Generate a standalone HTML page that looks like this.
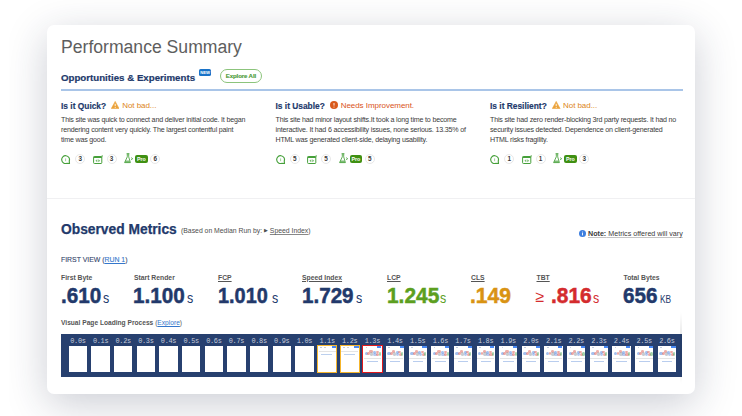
<!DOCTYPE html>
<html><head><meta charset="utf-8"><style>
*{box-sizing:border-box;margin:0;padding:0}
html,body{width:742px;height:416px;overflow:hidden;background:#fff;font-family:"Liberation Sans",sans-serif}
#clip{position:absolute;left:9px;top:0;width:733px;height:416px;overflow:hidden}
#card{position:absolute;left:37.5px;top:25px;width:648.7px;height:369px;background:#fff;border-radius:7px;box-shadow:0 10px 42px rgba(30,38,70,0.23)}
.a{position:absolute;white-space:nowrap}
.navy{color:#22396b}
#title{left:61px;top:36.5px;font-size:17.6px;color:#5e5e5e}
#opp{left:61px;top:71.6px;font-size:9.7px;font-weight:700;-webkit-text-stroke:0.2px currentColor}
#newb{left:198.9px;top:69px;width:12.3px;height:7px;background:#1a73c8;border-radius:1.6px;color:#fff;font-size:4.2px;font-weight:700;text-align:center;line-height:7px}
#explore{left:220px;top:69.2px;width:41.8px;height:14.2px;border:1px solid #8cc47c;border-radius:8px;color:#4a9a35;font-size:6.1px;letter-spacing:-0.12px;font-weight:700;-webkit-text-stroke:0.12px currentColor;text-align:center;line-height:12.2px}
#bline{left:61px;top:89px;width:622px;height:2px;background:#a9c5e8}
.colh{font-size:8.4px;font-weight:700;top:100.6px;-webkit-text-stroke:0.15px currentColor}
.stat{font-size:8px;letter-spacing:-0.05px;top:101.1px}
.warn{color:#dc8520}
.err{color:#d9541a}
.body{font-size:7.1px;letter-spacing:-0.18px;color:#3a3a3a;line-height:10px;top:114.9px}
.ico{position:absolute;top:154px}
.cnt{position:absolute;top:154.2px;width:10px;height:10px;border:1px solid #e8e8e8;border-radius:50%;font-size:6.4px;font-weight:700;color:#3a3a3a;text-align:center;line-height:8px}
.pro{position:absolute;top:155px;width:12.5px;height:8.3px;background:#3f9012;border-radius:2px;color:#fff;font-size:5.3px;font-weight:700;text-align:center;line-height:8.3px}
#sep{left:46.5px;top:198px;width:648.7px;height:1px;background:#f0f0f2}
#om{left:61px;top:221.7px;font-size:13.8px;font-weight:700;-webkit-text-stroke:0.25px currentColor}
#based{left:181px;top:227.2px;font-size:6.85px;color:#4d4d4d}
#note{left:588px;top:230px;font-size:7.15px;color:#3a3a3a;text-decoration:underline #c4c4c4;text-underline-offset:1.3px}
#fv{left:61px;top:255.5px;font-size:6.9px;color:#34456b;-webkit-text-stroke:0.1px currentColor}
.lab{font-size:6.8px;font-weight:700;color:#555;top:273.8px}
.ul{text-decoration:underline}
.big{font-size:22.5px;font-weight:700;top:283px;transform-origin:0 0;-webkit-text-stroke:0.5px currentColor}
.unit{font-size:14px;font-weight:400;top:290px;transform-origin:0 0}
#vplp{left:61px;top:319px;font-size:6.63px;font-weight:700;color:#555}
#film{left:61px;top:334px;width:621px;height:42.5px;background:#27406f;overflow:hidden}
.fr{position:absolute;top:12px;width:18.3px;height:26px;background:#fff}
.fl{position:absolute;top:2.6px;width:22.65px;text-align:center;font-family:"Liberation Mono",monospace;font-size:6.9px;letter-spacing:-0.3px;color:#c6cbd9}
.fr i{position:absolute;display:block}
.tb{left:13.8px;top:0.3px;width:4.2px;height:1.8px;background:#4a8af4}
.dd{left:1.6px;top:4.3px;width:15.5px;height:6px}
.dd b{position:absolute;border-radius:50%;opacity:.55}
.sl{left:4px;top:15px;width:10.5px;height:0.8px;background:#b9cdee}
.sg{left:0.6px;top:12.2px;width:17px;height:0.6px;background:#e4e4e4}
.ic{left:2.5px;top:0.6px;width:1.6px;height:1.6px;border-radius:50%;background:#b8c4d8}
.sl2{left:3.5px;top:8px;width:10.5px;height:0.8px;background:#bcd0ee}
.ob{outline:1.6px solid #f5b52c}
.rb{outline:1.5px solid #e0191c}
#fshadow{position:absolute;right:0;top:0;width:2px;height:100%}
</style></head><body>
<div id="clip"><div id="card"></div></div>
<div class="a" id="title">Performance Summary</div>
<div class="a navy" id="opp">Opportunities &amp; Experiments</div>
<div class="a" id="newb">NEW</div>
<div class="a" id="explore">Explore All</div>
<div class="a" id="bline"></div>
<div class="a navy colh" style="left:61px">Is it Quick?</div>
<svg class="a" style="left:111px;top:100.8px" width="8.4" height="8" viewBox="0 0 8.4 8"><path d="M4.2 0.4 L8.1 7.6 H0.3 Z" fill="#eba23a" stroke="#eba23a" stroke-width="0.6" stroke-linejoin="round"/><path d="M4.2 2.8 V5.2" stroke="#fff" stroke-width="0.9"/><circle cx="4.2" cy="6.4" r="0.5" fill="#fff"/></svg>
<div class="a stat warn" style="left:122.2px">Not bad...</div>
<div class="a body" style="left:61px">This site was quick to connect and deliver initial code. It began<br>rendering content very quickly. The largest contentful paint<br>time was good.</div>
<div class="a" style="left:61px;top:0;width:0;height:0">
<svg class="ico" width="10" height="10" viewBox="0 0 10 10" style="left:0;top:155.1px"><path d="M5.93 8.26 A3.9 3.9 0 1 1 8.26 5.93 L8.45 8.45 Z" fill="none" stroke="#46a03a" stroke-width="1.15" stroke-linejoin="miter"/><path d="M4.6 3.4V6.2" stroke="#46a03a" stroke-width="0.9" opacity=".55"/></svg>
<div class="cnt" style="left:14.4px">3</div>
<svg class="ico" width="10" height="10" viewBox="0 0 10 10" style="left:31.8px;top:154.5px"><rect x="0.6" y="1.5" width="8.2" height="7" rx="0.8" fill="none" stroke="#46a03a" stroke-width="1"/><rect x="0.6" y="1.5" width="8.2" height="1.5" fill="#46a03a"/><path d="M4.3 4.3 L2.4 5.8 L4.3 7.3 Z M5.3 4.3 L7.2 5.8 L5.3 7.3 Z" fill="#46a03a" opacity=".75"/><circle cx="9.2" cy="1.0" r="0.65" fill="#46a03a"/></svg>
<div class="cnt" style="left:45.5px">3</div>
<svg class="ico" width="10" height="11" viewBox="0 0 10 11" style="left:63.4px;top:153.2px"><path d="M2.6 0.7 H5.4 M3.3 0.7 V3.8 L0.6 9.6 H6.4 L4.7 3.8 V0.7" fill="none" stroke="#46a03a" stroke-width="0.95" stroke-linejoin="round" opacity=".9"/><path d="M1.6 7.4 H5.4 L6.4 9.6 H0.6 Z" fill="#46a03a" opacity=".7"/><path d="M7 4.6 L8.8 5.7 L7 6.8" fill="none" stroke="#46a03a" stroke-width="0.85" opacity=".85"/></svg>
<div class="pro" style="left:74.1px">Pro</div>
<div class="cnt" style="left:89.2px">6</div>
</div>
<div class="a navy colh" style="left:275.5px">Is it Usable?</div>
<svg class="a" style="left:330px;top:101px" width="8" height="8" viewBox="0 0 8 8"><circle cx="4" cy="4" r="4" fill="#d95a1c"/><path d="M4 2 V4.6" stroke="#fff" stroke-width="0.9"/><circle cx="4" cy="5.9" r="0.5" fill="#fff"/></svg>
<div class="a stat err" style="left:340.7px">Needs Improvement.</div>
<div class="a body" style="left:275.5px">This site had minor layout shifts.It took a long time to become<br>interactive. It had 6 accessibility issues, none serious. 13.35% of<br>HTML was generated client-side, delaying usability.</div>
<div class="a" style="left:275.5px;top:0;width:0;height:0">
<svg class="ico" width="10" height="10" viewBox="0 0 10 10" style="left:0;top:155.1px"><path d="M5.93 8.26 A3.9 3.9 0 1 1 8.26 5.93 L8.45 8.45 Z" fill="none" stroke="#46a03a" stroke-width="1.15" stroke-linejoin="miter"/><path d="M4.6 3.4V6.2" stroke="#46a03a" stroke-width="0.9" opacity=".55"/></svg>
<div class="cnt" style="left:14.4px">5</div>
<svg class="ico" width="10" height="10" viewBox="0 0 10 10" style="left:31.8px;top:154.5px"><rect x="0.6" y="1.5" width="8.2" height="7" rx="0.8" fill="none" stroke="#46a03a" stroke-width="1"/><rect x="0.6" y="1.5" width="8.2" height="1.5" fill="#46a03a"/><path d="M4.3 4.3 L2.4 5.8 L4.3 7.3 Z M5.3 4.3 L7.2 5.8 L5.3 7.3 Z" fill="#46a03a" opacity=".75"/><circle cx="9.2" cy="1.0" r="0.65" fill="#46a03a"/></svg>
<div class="cnt" style="left:45.5px">5</div>
<svg class="ico" width="10" height="11" viewBox="0 0 10 11" style="left:63.4px;top:153.2px"><path d="M2.6 0.7 H5.4 M3.3 0.7 V3.8 L0.6 9.6 H6.4 L4.7 3.8 V0.7" fill="none" stroke="#46a03a" stroke-width="0.95" stroke-linejoin="round" opacity=".9"/><path d="M1.6 7.4 H5.4 L6.4 9.6 H0.6 Z" fill="#46a03a" opacity=".7"/><path d="M7 4.6 L8.8 5.7 L7 6.8" fill="none" stroke="#46a03a" stroke-width="0.85" opacity=".85"/></svg>
<div class="pro" style="left:74.1px">Pro</div>
<div class="cnt" style="left:89.2px">5</div>
</div>
<div class="a navy colh" style="left:490px">Is it Resilient?</div>
<svg class="a" style="left:552.4px;top:100.8px" width="8.4" height="8" viewBox="0 0 8.4 8"><path d="M4.2 0.4 L8.1 7.6 H0.3 Z" fill="#eba23a" stroke="#eba23a" stroke-width="0.6" stroke-linejoin="round"/><path d="M4.2 2.8 V5.2" stroke="#fff" stroke-width="0.9"/><circle cx="4.2" cy="6.4" r="0.5" fill="#fff"/></svg>
<div class="a stat warn" style="left:563px">Not bad...</div>
<div class="a body" style="left:490px">This site had zero render-blocking 3rd party requests. It had no<br>security issues detected. Dependence on client-generated<br>HTML risks fragility.</div>
<div class="a" style="left:490px;top:0;width:0;height:0">
<svg class="ico" width="10" height="10" viewBox="0 0 10 10" style="left:0;top:155.1px"><path d="M5.93 8.26 A3.9 3.9 0 1 1 8.26 5.93 L8.45 8.45 Z" fill="none" stroke="#46a03a" stroke-width="1.15" stroke-linejoin="miter"/><path d="M4.6 3.4V6.2" stroke="#46a03a" stroke-width="0.9" opacity=".55"/></svg>
<div class="cnt" style="left:14.4px">1</div>
<svg class="ico" width="10" height="10" viewBox="0 0 10 10" style="left:31.8px;top:154.5px"><rect x="0.6" y="1.5" width="8.2" height="7" rx="0.8" fill="none" stroke="#46a03a" stroke-width="1"/><rect x="0.6" y="1.5" width="8.2" height="1.5" fill="#46a03a"/><path d="M4.3 4.3 L2.4 5.8 L4.3 7.3 Z M5.3 4.3 L7.2 5.8 L5.3 7.3 Z" fill="#46a03a" opacity=".75"/><circle cx="9.2" cy="1.0" r="0.65" fill="#46a03a"/></svg>
<div class="cnt" style="left:45.5px">1</div>
<svg class="ico" width="10" height="11" viewBox="0 0 10 11" style="left:63.4px;top:153.2px"><path d="M2.6 0.7 H5.4 M3.3 0.7 V3.8 L0.6 9.6 H6.4 L4.7 3.8 V0.7" fill="none" stroke="#46a03a" stroke-width="0.95" stroke-linejoin="round" opacity=".9"/><path d="M1.6 7.4 H5.4 L6.4 9.6 H0.6 Z" fill="#46a03a" opacity=".7"/><path d="M7 4.6 L8.8 5.7 L7 6.8" fill="none" stroke="#46a03a" stroke-width="0.85" opacity=".85"/></svg>
<div class="pro" style="left:74.1px">Pro</div>
<div class="cnt" style="left:89.2px">3</div>
</div>
<div class="a" id="sep"></div>
<div class="a navy" id="om">Observed Metrics</div>
<div class="a" id="based">(Based on Median Run by: <span style="font-size:5.2px;vertical-align:0.6px">&#9654;</span> <span class="ul" style="text-decoration-color:#888">Speed Index</span>)</div>
<svg class="a" style="left:579px;top:230.2px" width="7" height="7" viewBox="0 0 7 7"><circle cx="3.5" cy="3.5" r="3.5" fill="#3d7fe0"/><path d="M3.5 3 V5.4" stroke="#fff" stroke-width="0.9"/><circle cx="3.5" cy="1.9" r="0.5" fill="#fff"/></svg>
<div class="a" id="note"><b>Note:</b> Metrics offered will vary</div>
<div class="a" id="fv">FIRST VIEW (<span class="ul" style="color:#3477cc">RUN 1</span>)</div>
<div class="a lab" style="left:61px">First Byte</div>
<div class="a lab" style="left:134px">Start Render</div>
<div class="a lab ul" style="left:218px">FCP</div>
<div class="a lab ul" style="left:302px">Speed Index</div>
<div class="a lab ul" style="left:387px">LCP</div>
<div class="a lab ul" style="left:471px">CLS</div>
<div class="a lab ul" style="left:536.5px">TBT</div>
<div class="a lab" style="left:623.5px">Total Bytes</div>
<div class="a big" id="n61" style="left:60.66px;color:#22396b;transform:scaleX(0.919)">.610</div>
<div class="a unit" id="u61" style="left:102.7px;color:#22396b;font-size:14.5px;top:289.5px;transform:scaleX(0.86)">s</div>
<div class="a big" id="n134" style="left:133.47px;color:#22396b;transform:scaleX(0.918)">1.100</div>
<div class="a unit" id="u134" style="left:187.39999999999998px;color:#22396b;font-size:14.5px;top:289.5px;transform:scaleX(0.86)">s</div>
<div class="a big" id="n219" style="left:217.55px;color:#22396b;transform:scaleX(0.884)">1.010</div>
<div class="a unit" id="u219" style="left:271.59999999999997px;color:#22396b;font-size:14.5px;top:289.5px;transform:scaleX(0.86)">s</div>
<div class="a big" id="n303" style="left:301.70px;color:#22396b;transform:scaleX(0.916)">1.729</div>
<div class="a unit" id="u303" style="left:356.3px;color:#22396b;font-size:14.5px;top:289.5px;transform:scaleX(0.86)">s</div>
<div class="a big" id="n387" style="left:386.65px;color:#5c9f1f;transform:scaleX(0.929)">1.245</div>
<div class="a unit" id="u387" style="left:440.4px;color:#5c9f1f;font-size:14.5px;top:289.5px;transform:scaleX(0.86)">s</div>
<div class="a big" id="n472" style="left:470.29px;color:#d99313;transform:scaleX(0.938)">.149</div>
<div class="a big" id="n551" style="left:550.65px;color:#d42b2e;transform:scaleX(0.929)">.816</div>
<div class="a unit" id="u551" style="left:592.7px;color:#d42b2e;font-size:14.5px;top:289.5px;transform:scaleX(0.86)">s</div>
<div class="a big" id="n624" style="left:623.04px;color:#22396b;transform:scaleX(0.916)">656</div>
<div class="a unit" id="u624" style="left:660.2px;color:#22396b;font-size:11px;top:292.6px;transform:scaleX(0.76)">KB</div>
<div class="a unit" style="left:535.6px;color:#d42b2e;font-size:16px;top:288px">&ge;</div>
<div class="a" id="vplp">Visual Page Loading Process <span style="font-weight:400">(<span class="ul" style="color:#3477cc">Explore</span>)</span></div>
<div class="a" id="film"><div class="fl" style="left:5.60px">0.0s</div><div class="fr" style="left:7.80px"></div><div class="fl" style="left:28.25px">0.1s</div><div class="fr" style="left:30.45px"></div><div class="fl" style="left:50.90px">0.2s</div><div class="fr" style="left:53.10px"></div><div class="fl" style="left:73.55px">0.3s</div><div class="fr" style="left:75.75px"></div><div class="fl" style="left:96.20px">0.4s</div><div class="fr" style="left:98.40px"></div><div class="fl" style="left:118.85px">0.5s</div><div class="fr" style="left:121.05px"></div><div class="fl" style="left:141.50px">0.6s</div><div class="fr" style="left:143.70px"></div><div class="fl" style="left:164.15px">0.7s</div><div class="fr" style="left:166.35px"></div><div class="fl" style="left:186.80px">0.8s</div><div class="fr" style="left:189.00px"></div><div class="fl" style="left:209.45px">0.9s</div><div class="fr" style="left:211.65px"></div><div class="fl" style="left:232.10px">1.0s</div><div class="fr" style="left:234.30px"></div><div class="fl" style="left:254.75px">1.1s</div><div class="fr ob" style="left:256.95px"><i class="tb"></i><i class="ic"></i><i class="ic" style="left:6px;width:2px;background:#c8c8c8"></i><i class="sg" style="top:5.2px"></i><i class="sl2"></i></div><div class="fl" style="left:277.40px">1.2s</div><div class="fr ob" style="left:279.60px"><i class="tb"></i><i class="ic"></i><i class="ic" style="left:6px;width:2px;background:#c8c8c8"></i><i class="sg" style="top:5.2px"></i><i class="sl2"></i></div><div class="fl" style="left:300.05px">1.3s</div><div class="fr rb" style="left:302.25px"><i class="tb"></i><i class="ic"></i><i class="dd"><b style="left:0px;top:1.6px;width:3.4px;height:3.6px;background:#5a8de0"></b><b style="left:2.6px;top:1.8px;width:2.8px;height:3.2px;background:#e0605a"></b><b style="left:4.6px;top:0.2px;width:3.2px;height:2.6px;background:#e06a60"></b><b style="left:5.4px;top:2px;width:3.2px;height:3.4px;background:#9aa0aa"></b><b style="left:8.2px;top:0.6px;width:3px;height:2.8px;background:#5a8de0"></b><b style="left:8.4px;top:2.6px;width:3.4px;height:3.2px;background:#7a9ae0"></b><b style="left:10.8px;top:0.4px;width:3px;height:2.6px;background:#e0605a"></b><b style="left:11.4px;top:2.4px;width:3.2px;height:3.4px;background:#e0605a"></b><b style="left:13.8px;top:2.2px;width:2.2px;height:3.2px;background:#5ab06a"></b></i><i class="sg"></i><i class="sl"></i></div><div class="fl" style="left:322.70px">1.4s</div><div class="fr" style="left:324.90px"><i class="tb"></i><i class="ic"></i><i class="dd"><b style="left:0px;top:1.6px;width:3.4px;height:3.6px;background:#5a8de0"></b><b style="left:2.6px;top:1.8px;width:2.8px;height:3.2px;background:#e0605a"></b><b style="left:4.6px;top:0.2px;width:3.2px;height:2.6px;background:#e06a60"></b><b style="left:5.4px;top:2px;width:3.2px;height:3.4px;background:#9aa0aa"></b><b style="left:8.2px;top:0.6px;width:3px;height:2.8px;background:#5a8de0"></b><b style="left:8.4px;top:2.6px;width:3.4px;height:3.2px;background:#7a9ae0"></b><b style="left:10.8px;top:0.4px;width:3px;height:2.6px;background:#e0605a"></b><b style="left:11.4px;top:2.4px;width:3.2px;height:3.4px;background:#e0605a"></b><b style="left:13.8px;top:2.2px;width:2.2px;height:3.2px;background:#5ab06a"></b></i><i class="sg"></i><i class="sl"></i></div><div class="fl" style="left:345.35px">1.5s</div><div class="fr" style="left:347.55px"><i class="tb"></i><i class="ic"></i><i class="dd"><b style="left:0px;top:1.6px;width:3.4px;height:3.6px;background:#5a8de0"></b><b style="left:2.6px;top:1.8px;width:2.8px;height:3.2px;background:#e0605a"></b><b style="left:4.6px;top:0.2px;width:3.2px;height:2.6px;background:#e06a60"></b><b style="left:5.4px;top:2px;width:3.2px;height:3.4px;background:#9aa0aa"></b><b style="left:8.2px;top:0.6px;width:3px;height:2.8px;background:#5a8de0"></b><b style="left:8.4px;top:2.6px;width:3.4px;height:3.2px;background:#7a9ae0"></b><b style="left:10.8px;top:0.4px;width:3px;height:2.6px;background:#e0605a"></b><b style="left:11.4px;top:2.4px;width:3.2px;height:3.4px;background:#e0605a"></b><b style="left:13.8px;top:2.2px;width:2.2px;height:3.2px;background:#5ab06a"></b></i><i class="sg"></i><i class="sl"></i></div><div class="fl" style="left:368.00px">1.6s</div><div class="fr" style="left:370.20px"><i class="tb"></i><i class="ic"></i><i class="dd"><b style="left:0px;top:1.6px;width:3.4px;height:3.6px;background:#5a8de0"></b><b style="left:2.6px;top:1.8px;width:2.8px;height:3.2px;background:#e0605a"></b><b style="left:4.6px;top:0.2px;width:3.2px;height:2.6px;background:#e06a60"></b><b style="left:5.4px;top:2px;width:3.2px;height:3.4px;background:#9aa0aa"></b><b style="left:8.2px;top:0.6px;width:3px;height:2.8px;background:#5a8de0"></b><b style="left:8.4px;top:2.6px;width:3.4px;height:3.2px;background:#7a9ae0"></b><b style="left:10.8px;top:0.4px;width:3px;height:2.6px;background:#e0605a"></b><b style="left:11.4px;top:2.4px;width:3.2px;height:3.4px;background:#e0605a"></b><b style="left:13.8px;top:2.2px;width:2.2px;height:3.2px;background:#5ab06a"></b></i><i class="sg"></i><i class="sl"></i></div><div class="fl" style="left:390.65px">1.7s</div><div class="fr" style="left:392.85px"><i class="tb"></i><i class="ic"></i><i class="dd"><b style="left:0px;top:1.6px;width:3.4px;height:3.6px;background:#5a8de0"></b><b style="left:2.6px;top:1.8px;width:2.8px;height:3.2px;background:#e0605a"></b><b style="left:4.6px;top:0.2px;width:3.2px;height:2.6px;background:#e06a60"></b><b style="left:5.4px;top:2px;width:3.2px;height:3.4px;background:#9aa0aa"></b><b style="left:8.2px;top:0.6px;width:3px;height:2.8px;background:#5a8de0"></b><b style="left:8.4px;top:2.6px;width:3.4px;height:3.2px;background:#7a9ae0"></b><b style="left:10.8px;top:0.4px;width:3px;height:2.6px;background:#e0605a"></b><b style="left:11.4px;top:2.4px;width:3.2px;height:3.4px;background:#e0605a"></b><b style="left:13.8px;top:2.2px;width:2.2px;height:3.2px;background:#5ab06a"></b></i><i class="sg"></i><i class="sl"></i></div><div class="fl" style="left:413.30px">1.8s</div><div class="fr" style="left:415.50px"><i class="tb"></i><i class="ic"></i><i class="dd"><b style="left:0px;top:1.6px;width:3.4px;height:3.6px;background:#5a8de0"></b><b style="left:2.6px;top:1.8px;width:2.8px;height:3.2px;background:#e0605a"></b><b style="left:4.6px;top:0.2px;width:3.2px;height:2.6px;background:#e06a60"></b><b style="left:5.4px;top:2px;width:3.2px;height:3.4px;background:#9aa0aa"></b><b style="left:8.2px;top:0.6px;width:3px;height:2.8px;background:#5a8de0"></b><b style="left:8.4px;top:2.6px;width:3.4px;height:3.2px;background:#7a9ae0"></b><b style="left:10.8px;top:0.4px;width:3px;height:2.6px;background:#e0605a"></b><b style="left:11.4px;top:2.4px;width:3.2px;height:3.4px;background:#e0605a"></b><b style="left:13.8px;top:2.2px;width:2.2px;height:3.2px;background:#5ab06a"></b></i><i class="sg"></i><i class="sl"></i></div><div class="fl" style="left:435.95px">1.9s</div><div class="fr" style="left:438.15px"><i class="tb"></i><i class="ic"></i><i class="dd"><b style="left:0px;top:1.6px;width:3.4px;height:3.6px;background:#5a8de0"></b><b style="left:2.6px;top:1.8px;width:2.8px;height:3.2px;background:#e0605a"></b><b style="left:4.6px;top:0.2px;width:3.2px;height:2.6px;background:#e06a60"></b><b style="left:5.4px;top:2px;width:3.2px;height:3.4px;background:#9aa0aa"></b><b style="left:8.2px;top:0.6px;width:3px;height:2.8px;background:#5a8de0"></b><b style="left:8.4px;top:2.6px;width:3.4px;height:3.2px;background:#7a9ae0"></b><b style="left:10.8px;top:0.4px;width:3px;height:2.6px;background:#e0605a"></b><b style="left:11.4px;top:2.4px;width:3.2px;height:3.4px;background:#e0605a"></b><b style="left:13.8px;top:2.2px;width:2.2px;height:3.2px;background:#5ab06a"></b></i><i class="sg"></i><i class="sl"></i></div><div class="fl" style="left:458.60px">2.0s</div><div class="fr" style="left:460.80px"><i class="tb"></i><i class="ic"></i><i class="dd"><b style="left:0px;top:1.6px;width:3.4px;height:3.6px;background:#5a8de0"></b><b style="left:2.6px;top:1.8px;width:2.8px;height:3.2px;background:#e0605a"></b><b style="left:4.6px;top:0.2px;width:3.2px;height:2.6px;background:#e06a60"></b><b style="left:5.4px;top:2px;width:3.2px;height:3.4px;background:#9aa0aa"></b><b style="left:8.2px;top:0.6px;width:3px;height:2.8px;background:#5a8de0"></b><b style="left:8.4px;top:2.6px;width:3.4px;height:3.2px;background:#7a9ae0"></b><b style="left:10.8px;top:0.4px;width:3px;height:2.6px;background:#e0605a"></b><b style="left:11.4px;top:2.4px;width:3.2px;height:3.4px;background:#e0605a"></b><b style="left:13.8px;top:2.2px;width:2.2px;height:3.2px;background:#5ab06a"></b></i><i class="sg"></i><i class="sl"></i></div><div class="fl" style="left:481.25px">2.1s</div><div class="fr" style="left:483.45px"><i class="tb"></i><i class="ic"></i><i class="dd"><b style="left:0px;top:1.6px;width:3.4px;height:3.6px;background:#5a8de0"></b><b style="left:2.6px;top:1.8px;width:2.8px;height:3.2px;background:#e0605a"></b><b style="left:4.6px;top:0.2px;width:3.2px;height:2.6px;background:#e06a60"></b><b style="left:5.4px;top:2px;width:3.2px;height:3.4px;background:#9aa0aa"></b><b style="left:8.2px;top:0.6px;width:3px;height:2.8px;background:#5a8de0"></b><b style="left:8.4px;top:2.6px;width:3.4px;height:3.2px;background:#7a9ae0"></b><b style="left:10.8px;top:0.4px;width:3px;height:2.6px;background:#e0605a"></b><b style="left:11.4px;top:2.4px;width:3.2px;height:3.4px;background:#e0605a"></b><b style="left:13.8px;top:2.2px;width:2.2px;height:3.2px;background:#5ab06a"></b></i><i class="sg"></i><i class="sl"></i></div><div class="fl" style="left:503.90px">2.2s</div><div class="fr" style="left:506.10px"><i class="tb"></i><i class="ic"></i><i class="dd"><b style="left:0px;top:1.6px;width:3.4px;height:3.6px;background:#5a8de0"></b><b style="left:2.6px;top:1.8px;width:2.8px;height:3.2px;background:#e0605a"></b><b style="left:4.6px;top:0.2px;width:3.2px;height:2.6px;background:#e06a60"></b><b style="left:5.4px;top:2px;width:3.2px;height:3.4px;background:#9aa0aa"></b><b style="left:8.2px;top:0.6px;width:3px;height:2.8px;background:#5a8de0"></b><b style="left:8.4px;top:2.6px;width:3.4px;height:3.2px;background:#7a9ae0"></b><b style="left:10.8px;top:0.4px;width:3px;height:2.6px;background:#e0605a"></b><b style="left:11.4px;top:2.4px;width:3.2px;height:3.4px;background:#e0605a"></b><b style="left:13.8px;top:2.2px;width:2.2px;height:3.2px;background:#5ab06a"></b></i><i class="sg"></i><i class="sl"></i></div><div class="fl" style="left:526.55px">2.3s</div><div class="fr" style="left:528.75px"><i class="tb"></i><i class="ic"></i><i class="dd"><b style="left:0px;top:1.6px;width:3.4px;height:3.6px;background:#5a8de0"></b><b style="left:2.6px;top:1.8px;width:2.8px;height:3.2px;background:#e0605a"></b><b style="left:4.6px;top:0.2px;width:3.2px;height:2.6px;background:#e06a60"></b><b style="left:5.4px;top:2px;width:3.2px;height:3.4px;background:#9aa0aa"></b><b style="left:8.2px;top:0.6px;width:3px;height:2.8px;background:#5a8de0"></b><b style="left:8.4px;top:2.6px;width:3.4px;height:3.2px;background:#7a9ae0"></b><b style="left:10.8px;top:0.4px;width:3px;height:2.6px;background:#e0605a"></b><b style="left:11.4px;top:2.4px;width:3.2px;height:3.4px;background:#e0605a"></b><b style="left:13.8px;top:2.2px;width:2.2px;height:3.2px;background:#5ab06a"></b></i><i class="sg"></i><i class="sl"></i></div><div class="fl" style="left:549.20px">2.4s</div><div class="fr" style="left:551.40px"><i class="tb"></i><i class="ic"></i><i class="dd"><b style="left:0px;top:1.6px;width:3.4px;height:3.6px;background:#5a8de0"></b><b style="left:2.6px;top:1.8px;width:2.8px;height:3.2px;background:#e0605a"></b><b style="left:4.6px;top:0.2px;width:3.2px;height:2.6px;background:#e06a60"></b><b style="left:5.4px;top:2px;width:3.2px;height:3.4px;background:#9aa0aa"></b><b style="left:8.2px;top:0.6px;width:3px;height:2.8px;background:#5a8de0"></b><b style="left:8.4px;top:2.6px;width:3.4px;height:3.2px;background:#7a9ae0"></b><b style="left:10.8px;top:0.4px;width:3px;height:2.6px;background:#e0605a"></b><b style="left:11.4px;top:2.4px;width:3.2px;height:3.4px;background:#e0605a"></b><b style="left:13.8px;top:2.2px;width:2.2px;height:3.2px;background:#5ab06a"></b></i><i class="sg"></i><i class="sl"></i></div><div class="fl" style="left:571.85px">2.5s</div><div class="fr" style="left:574.05px"><i class="tb"></i><i class="ic"></i><i class="dd"><b style="left:0px;top:1.6px;width:3.4px;height:3.6px;background:#5a8de0"></b><b style="left:2.6px;top:1.8px;width:2.8px;height:3.2px;background:#e0605a"></b><b style="left:4.6px;top:0.2px;width:3.2px;height:2.6px;background:#e06a60"></b><b style="left:5.4px;top:2px;width:3.2px;height:3.4px;background:#9aa0aa"></b><b style="left:8.2px;top:0.6px;width:3px;height:2.8px;background:#5a8de0"></b><b style="left:8.4px;top:2.6px;width:3.4px;height:3.2px;background:#7a9ae0"></b><b style="left:10.8px;top:0.4px;width:3px;height:2.6px;background:#e0605a"></b><b style="left:11.4px;top:2.4px;width:3.2px;height:3.4px;background:#e0605a"></b><b style="left:13.8px;top:2.2px;width:2.2px;height:3.2px;background:#5ab06a"></b></i><i class="sg"></i><i class="sl"></i></div><div class="fl" style="left:594.50px">2.6s</div><div class="fr" style="left:596.70px"><i class="tb"></i><i class="ic"></i><i class="dd"><b style="left:0px;top:1.6px;width:3.4px;height:3.6px;background:#5a8de0"></b><b style="left:2.6px;top:1.8px;width:2.8px;height:3.2px;background:#e0605a"></b><b style="left:4.6px;top:0.2px;width:3.2px;height:2.6px;background:#e06a60"></b><b style="left:5.4px;top:2px;width:3.2px;height:3.4px;background:#9aa0aa"></b><b style="left:8.2px;top:0.6px;width:3px;height:2.8px;background:#5a8de0"></b><b style="left:8.4px;top:2.6px;width:3.4px;height:3.2px;background:#7a9ae0"></b><b style="left:10.8px;top:0.4px;width:3px;height:2.6px;background:#e0605a"></b><b style="left:11.4px;top:2.4px;width:3.2px;height:3.4px;background:#e0605a"></b><b style="left:13.8px;top:2.2px;width:2.2px;height:3.2px;background:#5ab06a"></b></i><i class="sg"></i><i class="sl"></i></div></div>
<div class="a" style="left:680px;top:312px;width:1.6px;height:72px;background:linear-gradient(rgba(0,0,0,0),rgba(0,0,0,0.07) 25%,rgba(0,0,0,0.07) 75%,rgba(0,0,0,0))"></div>
</body></html>
